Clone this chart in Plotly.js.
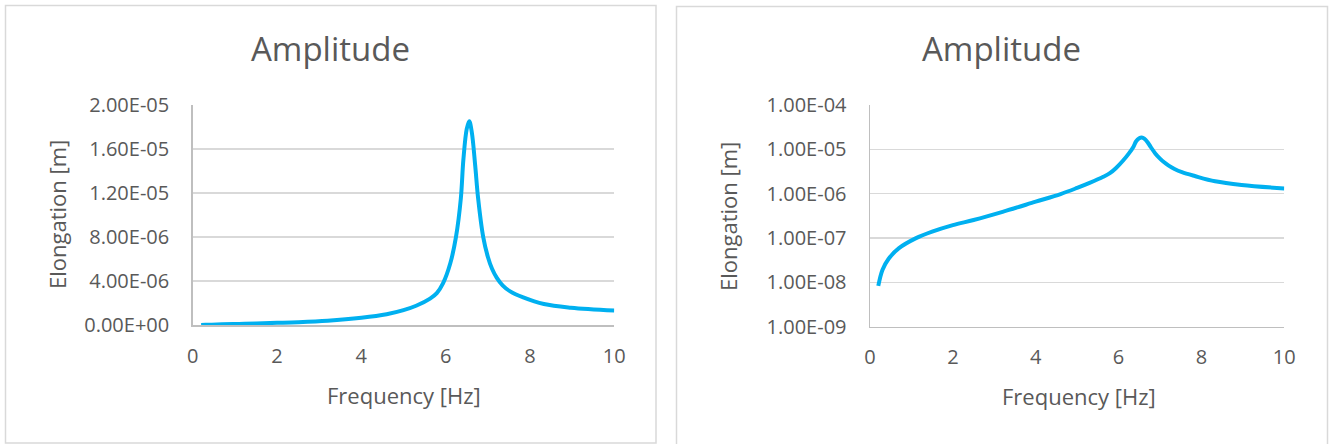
<!DOCTYPE html>
<html>
<head>
<meta charset="utf-8">
<script src="https://cdn.plot.ly/plotly-3.0.1.min.js"></script>
<style>
  html, body { margin: 0; padding: 0; background: #ffffff; }
  #chart { width: 1331px; height: 444px; }
</style>
</head>
<body>
<div id="chart"></div>
<script>
// ---- data ----
const frequencyHz = [0.2, 0.3, 0.45, 0.7, 1.1, 1.5, 2.0, 2.5, 3.2, 4.0, 4.6, 5.0, 5.3, 5.63, 5.79, 5.94, 6.11, 6.245, 6.36, 6.42, 6.5, 6.56, 6.62, 6.7, 6.77, 6.89, 7.0, 7.1, 7.21, 7.35, 7.53, 7.84, 8.33, 8.97, 10];
const elongationM = [8.3e-9, 1.9e-8, 3.4e-8, 5.9e-8, 9.8e-8, 1.39e-7, 1.95e-7, 2.55e-7, 3.9e-7, 6.6e-7, 9.8e-7, 1.35e-6, 1.75e-6, 2.4e-6, 2.9e-6, 3.8e-6, 5.6e-6, 8.0e-6, 1.15e-5, 1.5e-5, 1.78e-5, 1.85e-5, 1.75e-5, 1.45e-5, 1.15e-5, 8.0e-6, 6.2e-6, 5.1e-6, 4.3e-6, 3.6e-6, 3.05e-6, 2.5e-6, 1.9e-6, 1.57e-6, 1.31e-6];

const xTickVals = [0, 2, 4, 6, 8, 10];
const linTickVals = [0, 4e-6, 8e-6, 1.2e-5, 1.6e-5, 2e-5];
const linTickText = ["0.00E+00", "4.00E-06", "8.00E-06", "1.20E-05", "1.60E-05", "2.00E-05"];
const logTickVals = [1e-9, 1e-8, 1e-7, 1e-6, 1e-5, 1e-4];
const logTickText = ["1.00E-09", "1.00E-08", "1.00E-07", "1.00E-06", "1.00E-05", "1.00E-04"];

const chartTitle = "Amplitude";
const xTitle = "Frequency [Hz]";
const yTitle = "Elongation [m]";

// ---- styling ----
const W = 1331, H = 444;
const FONT = "Open Sans, Noto Sans, sans-serif";
const TXT = "#595959";
const GRID = "#d9d9d9";
const AXIS = "#bfbfbf";
const LINE = "#00b0f0";

function px(x) { return x / W; }
function py(y) { return 1 - y / H; }

const lineStyle = { color: LINE, width: 4, shape: "spline", smoothing: 1 };

const traces = [
  { x: frequencyHz, y: elongationM, type: "scatter", mode: "lines", line: lineStyle, xaxis: "x", yaxis: "y", hoverinfo: "skip" },
  { x: frequencyHz, y: elongationM, type: "scatter", mode: "lines", line: lineStyle, xaxis: "x2", yaxis: "y2", hoverinfo: "skip" }
];

function xAxis(domain, anchor) {
  return {
    domain: domain, anchor: anchor, range: [0, 10],
    tickmode: "array", tickvals: xTickVals,
    showgrid: false, zeroline: false,
    showline: true, linecolor: AXIS, linewidth: 1.5,
    ticks: "", ticklabelstandoff: 12,
    tickfont: { family: FONT, size: 20, color: TXT },
    fixedrange: true
  };
}
function yCommon(domain, anchor) {
  return {
    domain: domain, anchor: anchor,
    showgrid: true, gridcolor: GRID, gridwidth: 1.5, zeroline: false,
    showline: true, linecolor: AXIS, linewidth: 1.5,
    ticks: "", ticklabelstandoff: 18,
    tickfont: { family: FONT, size: 20, color: TXT },
    fixedrange: true
  };
}

const yLin = Object.assign(yCommon([py(325), py(104.7)], "x"), {
  type: "linear", range: [0, 2e-5], tickmode: "array", tickvals: linTickVals, ticktext: linTickText
});
const yLog = Object.assign(yCommon([py(326.7), py(105)], "x2"), {
  type: "log", range: [-9, -4], tickmode: "array", tickvals: logTickVals, ticktext: logTickText
});

function ann(text, x, y, size, angle) {
  return {
    text: text, xref: "paper", yref: "paper", x: px(x), y: py(y),
    xanchor: "center", yanchor: "middle", showarrow: false, textangle: angle || 0,
    font: { family: FONT, size: size, color: TXT }
  };
}

const layout = {
  width: W, height: H,
  margin: { l: 0, r: 0, t: 0, b: 0, pad: 0 },
  paper_bgcolor: "#ffffff", plot_bgcolor: "#ffffff",
  showlegend: false,
  xaxis: xAxis([px(192.7), px(614.3)], "y"),
  yaxis: yLin,
  xaxis2: xAxis([px(870), px(1284.3)], "y2"),
  yaxis2: yLog,
  annotations: [
    ann(chartTitle, 330.5, 49, 33),
    ann(chartTitle, 1001.5, 49, 33),
    ann(xTitle, 403.5, 395, 22),
    ann(xTitle, 1079, 396, 22),
    ann(yTitle, 57, 215, 22, -90),
    ann(yTitle, 728, 216, 22, -90)
  ],
  shapes: [
    { type: "rect", xref: "paper", yref: "paper", x0: px(5.5), x1: px(656), y0: py(443), y1: py(5.5), line: { color: "#d9d9d9", width: 1.5 }, fillcolor: "rgba(0,0,0,0)", layer: "below" },
    { type: "rect", xref: "paper", yref: "paper", x0: px(676.5), x1: px(1327.5), y0: py(460), y1: py(6.5), line: { color: "#d9d9d9", width: 1.5 }, fillcolor: "rgba(0,0,0,0)", layer: "below" }
  ]
};

Plotly.newPlot("chart", traces, layout, { displayModeBar: false, staticPlot: true });
</script>
</body>
</html>
